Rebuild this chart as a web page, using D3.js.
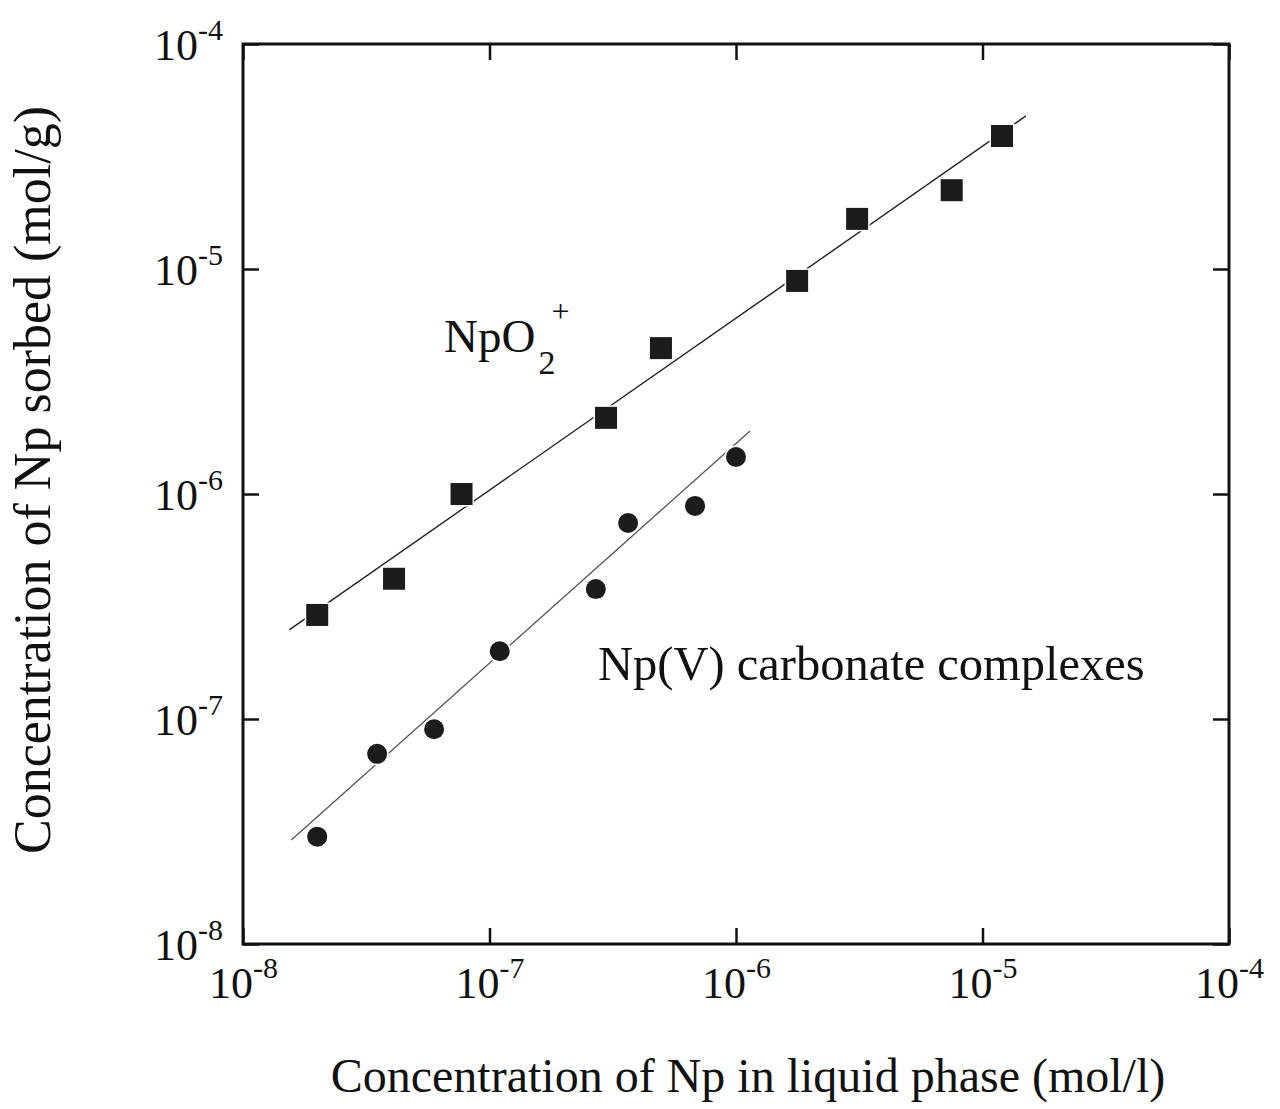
<!DOCTYPE html>
<html>
<head>
<meta charset="utf-8">
<script src="https://cdn.jsdelivr.net/npm/d3@7"></script>
<style>
  body { margin: 0; background: #fff; }
  svg text { font-family: "Liberation Serif", "DejaVu Serif", serif; fill: #111; }
</style>
</head>
<body>
<svg id="chart" width="1280" height="1109"></svg>
<script>
// NpO2+ sorption data (mol/l, mol/g)
const npo2X = [2.0e-8, 4.1e-8, 7.7e-8, 2.97e-7, 4.96e-7, 1.77e-6, 3.1e-6, 7.5e-6, 1.2e-5];
const npo2Y = [2.9e-7, 4.2e-7, 1.0e-6, 2.18e-6, 4.45e-6, 8.85e-6, 1.67e-5, 2.24e-5, 3.9e-5];

// Np(V) carbonate complexes
const carbX = [2.0e-8, 3.5e-8, 5.96e-8, 1.1e-7, 2.7e-7, 3.65e-7, 6.82e-7, 1.0e-6];
const carbY = [3.0e-8, 7.0e-8, 9.0e-8, 2.0e-7, 3.78e-7, 7.43e-7, 8.85e-7, 1.46e-6];

// fitted lines, end points
const npo2FitX = [1.54e-8, 1.5e-5];
const npo2FitY = [2.49e-7, 4.79e-5];
const carbFitX = [1.57e-8, 1.14e-6];
const carbFitY = [2.9e-8, 1.905e-6];

const xTicks = [1e-8, 1e-7, 1e-6, 1e-5, 1e-4];
const yTicks = [1e-8, 1e-7, 1e-6, 1e-5, 1e-4];
const tickExp = v => String(Math.round(Math.log10(v)));

const margin = { left: 243, top: 44, right: 51, bottom: 165 };
const W = 1280, H = 1109;
const svg = d3.select('#chart');

const x = d3.scaleLog().domain([1e-8, 1e-4]).range([margin.left, W - margin.right]);
const y = d3.scaleLog().domain([1e-8, 1e-4]).range([H - margin.bottom, margin.top]);

const tick = 16;

// ticks on all four sides, pointing in
const addAxis = (axis, vals, tx, ty) =>
  svg.append('g')
    .attr('transform', `translate(${tx},${ty})`)
    .call(axis.tickValues(vals).tickSize(-tick).tickFormat(''))
    .call(g => g.select('.domain').remove())
    .call(g => g.selectAll('line').attr('stroke', '#111').attr('stroke-width', 2.5));

const bottomAxis = addAxis(d3.axisBottom(x), xTicks, 0, y(1e-8));
addAxis(d3.axisTop(x), xTicks, 0, y(1e-4)).selectAll('line').attr('y2', tick);
const leftAxis = addAxis(d3.axisLeft(y), yTicks, x(1e-8), 0);
addAxis(d3.axisRight(y), yTicks, x(1e-4), 0).selectAll('line').attr('x2', -tick);

// frame
svg.append('rect')
  .attr('x', x(1e-8)).attr('y', y(1e-4))
  .attr('width', x(1e-4) - x(1e-8)).attr('height', y(1e-8) - y(1e-4))
  .attr('fill', 'none').attr('stroke', '#111').attr('stroke-width', 3);

// tick labels 10^n
const powLabel = (sel) => {
  sel.append('tspan').text('10');
  sel.append('tspan').attr('dy', -20).attr('font-size', 30).text(d => tickExp(d));
};

bottomAxis.selectAll('.tick').append('text')
  .attr('y', 54).attr('text-anchor', 'middle').attr('font-size', 44)
  .call(powLabel);

leftAxis.selectAll('.tick').append('text')
  .attr('x', -20).attr('y', 15).attr('text-anchor', 'end').attr('font-size', 44)
  .call(powLabel);

// fit lines
const line = d3.line().x(d => x(d[0])).y(d => y(d[1]));
svg.append('path')
  .attr('d', line(d3.zip(npo2FitX, npo2FitY)))
  .attr('fill', 'none').attr('stroke', '#222').attr('stroke-width', 1.4);
svg.append('path')
  .attr('d', line(d3.zip(carbFitX, carbFitY)))
  .attr('fill', 'none').attr('stroke', '#555').attr('stroke-width', 1.3);

// markers
const sq = 22;
svg.append('g').selectAll('rect')
  .data(d3.zip(npo2X, npo2Y))
  .join('rect')
  .attr('x', d => x(d[0]) - sq / 2).attr('y', d => y(d[1]) - sq / 2)
  .attr('width', sq).attr('height', sq)
  .attr('fill', '#1c1c1c').attr('stroke', '#fff').attr('stroke-width', 3)
  .attr('paint-order', 'stroke');

svg.append('g').selectAll('circle')
  .data(d3.zip(carbX, carbY))
  .join('circle')
  .attr('cx', d => x(d[0])).attr('cy', d => y(d[1])).attr('r', 10)
  .attr('fill', '#1c1c1c').attr('stroke', '#fff').attr('stroke-width', 3)
  .attr('paint-order', 'stroke');

// series labels
const npo2Lbl = svg.append('text').attr('x', 444).attr('y', 352).attr('font-size', 47);
npo2Lbl.append('tspan').text('NpO');
npo2Lbl.append('tspan').attr('font-size', 34).attr('dx', 3).attr('dy', 22).text('2');
npo2Lbl.append('tspan').attr('font-size', 32).attr('dx', -4).attr('dy', -52).text('+');

svg.append('text').attr('x', 598).attr('y', 680).attr('font-size', 48.5)
  .text('Np(V) carbonate complexes');

// axis titles
svg.append('text')
  .attr('x', 748).attr('y', 1092)
  .attr('text-anchor', 'middle').attr('font-size', 48)
  .text('Concentration of Np in liquid phase (mol/l)');

svg.append('text')
  .attr('transform', 'translate(50,480) rotate(-90)')
  .attr('text-anchor', 'middle').attr('font-size', 52)
  .text('Concentration of Np sorbed (mol/g)');
</script>
</body>
</html>
